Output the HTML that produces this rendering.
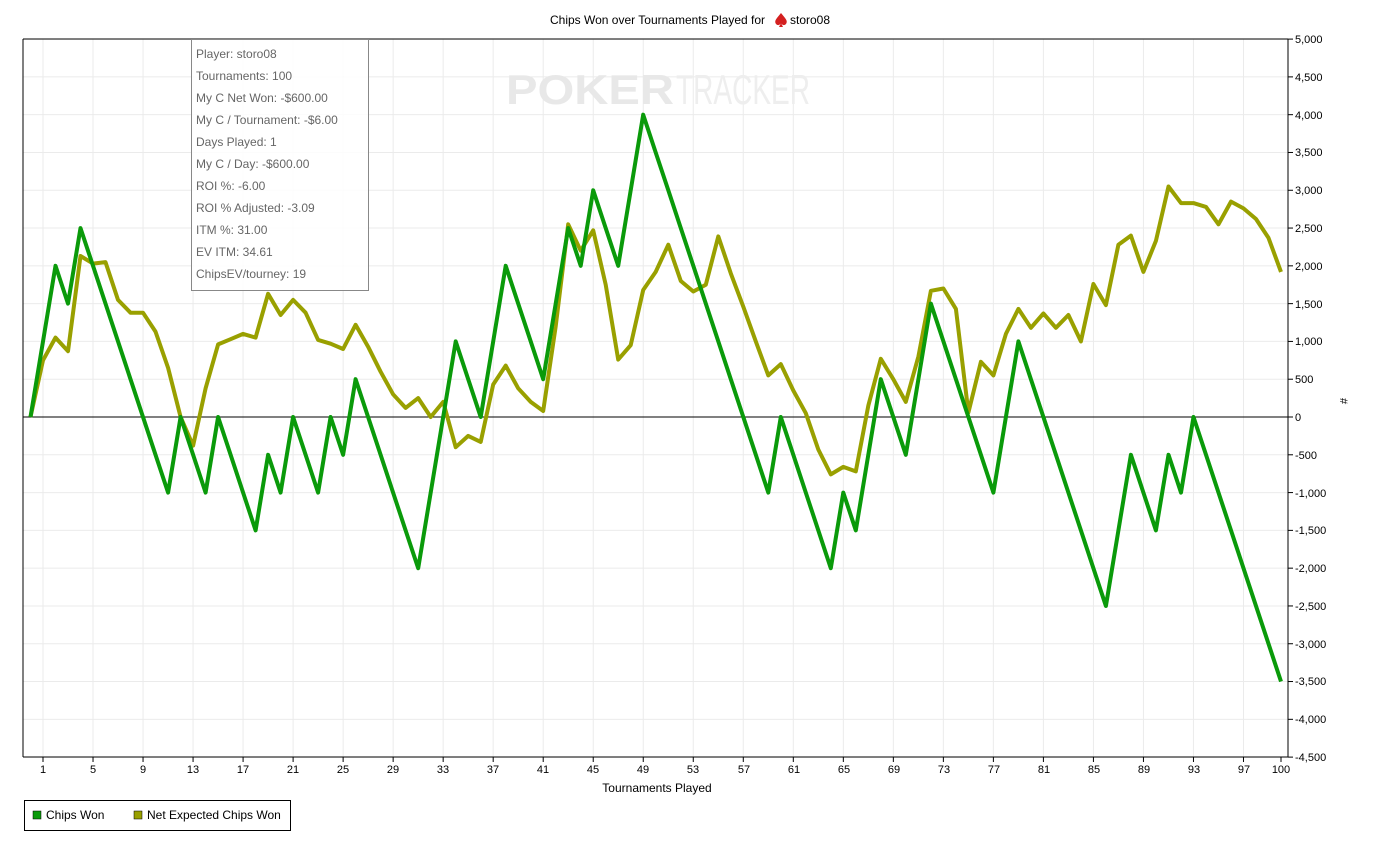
<!DOCTYPE html>
<html><head><meta charset="utf-8"><style>
html,body{margin:0;padding:0;background:#fff;}
svg{display:block;font-family:"Liberation Sans",Arial,sans-serif;}
</style></head><body>
<svg id="s" width="1376" height="845" viewBox="0 0 1376 845">
<rect width="1376" height="845" fill="#fff"/>
<g id="grid" stroke="#ebebeb" stroke-width="1"></g>
<text x="40" y="0" font-size="0"></text>
<text x="610" y="83" font-size="0"></text>
<g fill="#e8e8e8" font-weight="bold" font-size="42">
<text x="506" y="104" textLength="168" lengthAdjust="spacingAndGlyphs">POKER</text>
</g>
<text x="676" y="104" font-size="42" fill="#eeeeee" textLength="134" lengthAdjust="spacingAndGlyphs">TRACKER</text>
<line x1="23" y1="39" x2="1288" y2="39" stroke="#000"/>
<line x1="23" y1="39" x2="23" y2="757" stroke="#000"/>
<line x1="1288" y1="39" x2="1288" y2="757" stroke="#000"/>
<line x1="23" y1="757" x2="1288" y2="757" stroke="#000"/>
<line x1="23" y1="417" x2="1288" y2="417" stroke="#000"/>
<g id="ticks" stroke="#000"></g>
<polyline id="yl" fill="none" stroke="#99a000" stroke-width="4" stroke-linejoin="round"/>
<polyline id="gl" fill="none" stroke="#0a9a0a" stroke-width="4" stroke-linejoin="round"/>
<rect x="191.5" y="39.5" width="177" height="251" fill="#fff" fill-opacity="0.85" stroke="#888"/>
<g font-size="12" fill="#666">
<text x="196" y="58">Player: storo08</text>
<text x="196" y="80">Tournaments: 100</text>
<text x="196" y="102">My C Net Won: -$600.00</text>
<text x="196" y="124">My C / Tournament: -$6.00</text>
<text x="196" y="146">Days Played: 1</text>
<text x="196" y="168">My C / Day: -$600.00</text>
<text x="196" y="190">ROI %: -6.00</text>
<text x="196" y="212">ROI % Adjusted: -3.09</text>
<text x="196" y="234">ITM %: 31.00</text>
<text x="196" y="256">EV ITM: 34.61</text>
<text x="196" y="278">ChipsEV/tourney: 19</text>
</g>
<text x="550" y="24" font-size="12" fill="#000">Chips Won over Tournaments Played for</text>
<path d="M781 13 C776 19 774 21 776 24 C778 26 780 25 781 23 L779 27 L783 27 L781 23 C782 25 784 26 786 24 C788 21 786 19 781 13Z" fill="#d42020"/>
<text x="790" y="24" font-size="12" fill="#000">storo08</text>
<g font-size="11" fill="#000" text-anchor="start">
<text x="1295" y="43">5,000</text><text x="1295" y="81">4,500</text><text x="1295" y="119">4,000</text>
<text x="1295" y="156">3,500</text><text x="1295" y="194">3,000</text><text x="1295" y="232">2,500</text>
<text x="1295" y="270">2,000</text><text x="1295" y="308">1,500</text><text x="1295" y="345">1,000</text>
<text x="1295" y="383">500</text><text x="1295" y="421">0</text><text x="1295" y="459">-500</text>
<text x="1295" y="497">-1,000</text><text x="1295" y="534">-1,500</text><text x="1295" y="572">-2,000</text>
<text x="1295" y="610">-2,500</text><text x="1295" y="648">-3,000</text><text x="1295" y="685">-3,500</text>
<text x="1295" y="723">-4,000</text><text x="1295" y="761">-4,500</text>
</g>
<text x="1340" y="398" font-size="11" transform="rotate(90 1340 398)">#</text>
<g font-size="11" fill="#000" text-anchor="middle">
<text x="43" y="773">1</text><text x="93" y="773">5</text><text x="143" y="773">9</text><text x="193" y="773">13</text>
<text x="243" y="773">17</text><text x="293" y="773">21</text><text x="343" y="773">25</text><text x="393" y="773">29</text>
<text x="443" y="773">33</text><text x="493" y="773">37</text><text x="543" y="773">41</text><text x="593" y="773">45</text>
<text x="643" y="773">49</text><text x="693" y="773">53</text><text x="744" y="773">57</text><text x="794" y="773">61</text>
<text x="844" y="773">65</text><text x="894" y="773">69</text><text x="944" y="773">73</text><text x="994" y="773">77</text>
<text x="1044" y="773">81</text><text x="1094" y="773">85</text><text x="1144" y="773">89</text><text x="1194" y="773">93</text>
<text x="1244" y="773">97</text><text x="1281" y="773">100</text>
</g>
<text x="657" y="792" font-size="12" text-anchor="middle">Tournaments Played</text>
<rect x="24.5" y="800.5" width="266" height="30" fill="#fff" stroke="#000"/>
<rect x="33" y="811" width="8" height="8" fill="#0a9a0a" stroke="#000" stroke-width="0.5"/>
<text x="46" y="819" font-size="12">Chips Won</text>
<rect x="134" y="811" width="8" height="8" fill="#99a000" stroke="#000" stroke-width="0.5"/>
<text x="147" y="819" font-size="12">Net Expected Chips Won</text>
</svg>
<script>
var X=function(n){return 43+(n-1)*12.505;},Y=function(v){return 417-v*0.07558;};
var ns="http://www.w3.org/2000/svg",g=document.getElementById('grid'),t=document.getElementById('ticks');
function L(p,x1,y1,x2,y2){var l=document.createElementNS(ns,'line');l.setAttribute('x1',x1);l.setAttribute('y1',y1);l.setAttribute('x2',x2);l.setAttribute('y2',y2);p.appendChild(l);}
for(var n=1;n<=97;n+=4){L(g,X(n),39,X(n),757);L(t,X(n),757,X(n),762);}
L(t,X(100),757,X(100),762);
for(var v=-4500;v<=5000;v+=500){L(g,23,Y(v),1288,Y(v));L(t,1288,Y(v),1293,Y(v));}
var G=[0,1000,2000,1500,2500,2000,1500,1000,500,0,-500,-1000,0,-500,-1000,0,-500,-1000,-1500,-500,-1000,0,-500,-1000,0,-500,500,0,-500,-1000,-1500,-2000,-1000,0,1000,500,0,1000,2000,1500,1000,500,1500,2500,2000,3000,2500,2000,3000,4000,3500,3000,2500,2000,1500,1000,500,0,-500,-1000,0,-500,-1000,-1500,-2000,-1000,-1500,-500,500,0,-500,500,1500,1000,500,0,-500,-1000,0,1000,500,0,-500,-1000,-1500,-2000,-2500,-1500,-500,-1000,-1500,-500,-1000,0,-500,-1000,-1500,-2000,-2500,-3000,-3500];
var E=[0,750,1050,870,2130,2030,2050,1550,1380,1380,1130,650,0,-380,380,960,1030,1100,1050,1630,1350,1550,1380,1020,970,900,1220,930,600,300,120,250,0,200,-400,-250,-330,430,680,380,200,80,1200,2550,2200,2470,1750,760,950,1680,1920,2280,1800,1660,1750,2390,1900,1460,1000,550,700,350,50,-430,-760,-660,-720,150,770,500,200,800,1670,1700,1430,60,730,550,1100,1430,1180,1370,1180,1350,1000,1760,1480,2280,2400,1920,2330,3050,2830,2830,2780,2550,2850,2760,2620,2370,1920];
function P(a){return a.map(function(v,i){return X(i).toFixed(1)+','+Y(v).toFixed(1);}).join(' ');}
document.getElementById('gl').setAttribute('points',P(G));
document.getElementById('yl').setAttribute('points',P(E));
</script>
</body></html>
